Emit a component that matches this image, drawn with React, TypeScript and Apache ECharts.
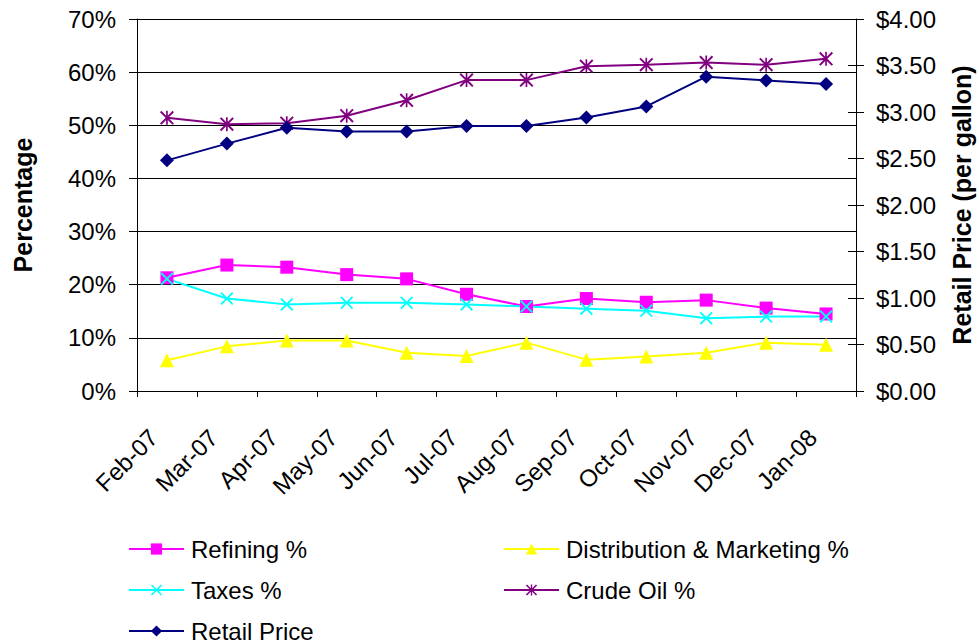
import React, { useEffect, useRef } from "react";
import * as echarts from "echarts";

const categories = ["Feb-07", "Mar-07", "Apr-07", "May-07", "Jun-07", "Jul-07", "Aug-07", "Sep-07", "Oct-07", "Nov-07", "Dec-07", "Jan-08"];
const refining = [21.3, 23.7, 23.3, 21.9, 21.1, 18.2, 15.9, 17.4, 16.7, 17.1, 15.6, 14.5];
const distribution = [5.8, 8.4, 9.5, 9.5, 7.2, 6.6, 9.1, 5.9, 6.5, 7.2, 9.1, 8.7];
const taxes = [21.1, 17.4, 16.3, 16.6, 16.6, 16.3, 15.9, 15.5, 15.1, 13.7, 14.0, 14.0];
const crudeOil = [51.4, 50.2, 50.4, 51.8, 54.7, 58.5, 58.5, 61.1, 61.4, 61.8, 61.4, 62.5];
const retailPrice = [2.48, 2.66, 2.83, 2.79, 2.79, 2.85, 2.85, 2.94, 3.06, 3.38, 3.34, 3.30];

const FONT = 'Arial, "Liberation Sans", sans-serif';
const X_PATH = "path://M0,1 L1,0 L5,4 L9,0 L10,1 L6,5 L10,9 L9,10 L5,6 L1,10 L0,9 L4,5 Z";
const STAR_PATH = "path://M0,1 L1,0 L5,4 L9,0 L10,1 L6,5 L10,9 L9,10 L5,6 L1,10 L0,9 L4,5 Z M4.4,0 L5.6,0 L5.6,10 L4.4,10 Z";

export default function App() {
  const ref = useRef<HTMLDivElement>(null);
  useEffect(() => {
    if (!ref.current) return;
    const chart = echarts.init(ref.current, undefined, { renderer: "svg" });
    const lineSeries = (name: string, data: number[], color: string, symbol: string, size: number, yAxisIndex = 0) => ({
      name,
      type: "line",
      data,
      yAxisIndex,
      symbol,
      symbolSize: size,
      lineStyle: { color, width: 2 },
      itemStyle: { color },
      emphasis: { disabled: true },
    });
    const legendBase = {
      orient: "vertical",
      padding: 0,
      itemWidth: 55,
      itemHeight: 14,
      itemGap: 17,
      textStyle: { fontSize: 24, lineHeight: 24, color: "#000", fontFamily: FONT, padding: [0, 0, 0, 2] },
    };
    chart.setOption({
      animation: false,
      backgroundColor: "#ffffff",
      textStyle: { fontFamily: FONT },
      grid: { left: 137, right: 123, top: 19, bottom: 252, outerBoundsMode: "none" },
      legend: [
        { ...legendBase, left: 128, top: 537, data: ["Refining %", "Taxes %"] },
        { ...legendBase, left: 128, top: 619, data: ["Retail Price"] },
        { ...legendBase, left: 503, top: 537, data: ["Distribution & Marketing %", "Crude Oil %"] },
      ],
      xAxis: {
        type: "category",
        data: categories,
        boundaryGap: true,
        axisLine: { show: true, lineStyle: { color: "#000", width: 1 } },
        axisTick: { show: true, length: 6, alignWithLabel: false, lineStyle: { color: "#000" } },
        axisLabel: { rotate: 45, fontSize: 24, color: "#000", fontFamily: FONT, margin: 29, interval: 0, padding: [0, 19, 0, 0] },
        splitLine: { show: false },
      },
      yAxis: [
        {
          type: "value",
          position: "left",
          min: 0,
          max: 70,
          interval: 10,
          name: "Percentage",
          nameLocation: "middle",
          nameRotate: 90,
          nameGap: 102,
          nameTextStyle: { fontSize: 25, fontWeight: "bold", color: "#000", fontFamily: FONT },
          axisLine: { show: true, lineStyle: { color: "#000", width: 1 } },
          axisTick: { show: true, length: 8, lineStyle: { color: "#000" } },
          axisLabel: { formatter: "{value}%", fontSize: 24, color: "#000", fontFamily: FONT, margin: 21 },
          splitLine: { show: true, lineStyle: { color: "#000", width: 1 } },
        },
        {
          type: "value",
          position: "right",
          min: 0,
          max: 4,
          interval: 0.5,
          name: "Retail Price (per gallon)",
          nameLocation: "middle",
          nameRotate: 90,
          nameGap: 93,
          nameTextStyle: { fontSize: 25, fontWeight: "bold", color: "#000", fontFamily: FONT },
          axisLine: { show: true, lineStyle: { color: "#000", width: 1 } },
          axisTick: { show: true, length: 8, lineStyle: { color: "#000" } },
          axisLabel: { formatter: (v: number) => "$" + v.toFixed(2), fontSize: 24, color: "#000", fontFamily: FONT, margin: 20 },
          splitLine: { show: false },
        },
        {
          type: "value",
          position: "right",
          min: 0,
          max: 4,
          interval: 0.5,
          axisLine: { show: false },
          axisTick: { show: true, inside: true, length: 8, lineStyle: { color: "#000" } },
          axisLabel: { show: false },
          splitLine: { show: false },
        },
      ],
      series: [
        lineSeries("Refining %", refining, "#FF00FF", "rect", 13),
        lineSeries("Distribution & Marketing %", distribution, "#FFFF00", "triangle", 14),
        lineSeries("Taxes %", taxes, "#00FFFF", X_PATH, 13),
        lineSeries("Crude Oil %", crudeOil, "#800080", STAR_PATH, 14),
        lineSeries("Retail Price", retailPrice, "#000080", "diamond", 14, 1),
      ],
    });
    return () => chart.dispose();
  }, []);
  return <div ref={ref} style={{ position: "absolute", left: 0, top: 0, width: 979, height: 643 }} />;
}
